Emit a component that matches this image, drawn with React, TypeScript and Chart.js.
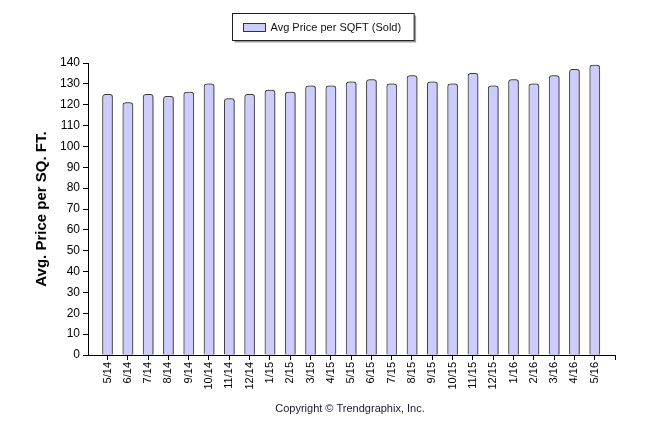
import { useEffect, useRef } from "react";
import { Chart, registerables } from "chart.js";

Chart.register(...registerables);

const categories = [
  "5/14", "6/14", "7/14", "8/14", "9/14", "10/14", "11/14", "12/14",
  "1/15", "2/15", "3/15", "4/15", "5/15", "6/15", "7/15", "8/15",
  "9/15", "10/15", "11/15", "12/15", "1/16", "2/16", "3/16", "4/16", "5/16",
];
const avgPrice = [
  125, 121, 125, 124, 126, 130, 123, 125,
  127, 126, 129, 129, 131, 132, 130, 134,
  131, 130, 135, 129, 132, 130, 134, 137, 139,
];
const yMin = 0;
const yMax = 140;
const yStep = 10;
const seriesLabel = "Avg Price per SQFT (Sold)";
const yTitle = "Avg. Price per SQ. FT.";
const copyright = "Copyright \u00A9 Trendgraphix, Inc.";

const FONT = "'Liberation Sans', Arial, sans-serif";
const BAR_FILL = "#ccccff";
const BAR_BORDER = "#3c3c3c";

const barShadowPlugin = {
  id: "barShadow",
  beforeDatasetsDraw(chart: any) {
    const ctx = chart.ctx as CanvasRenderingContext2D;
    ctx.save();
    ctx.shadowColor = "rgba(90,90,90,0.75)";
    ctx.shadowOffsetX = 1.5;
    ctx.shadowOffsetY = 0;
    ctx.shadowBlur = 0;
  },
  afterDatasetsDraw(chart: any) {
    chart.ctx.restore();
  },
};

const decorPlugin = {
  id: "decor",
  afterDraw(chart: any) {
    const ctx = chart.ctx as CanvasRenderingContext2D;
    ctx.save();
    // legend box
    ctx.font = `11px ${FONT}`;
    const textW = ctx.measureText(seriesLabel).width;
    const swW = 22;
    const swH = 8;
    const boxW = 11 + swW + 5 + textW + 13;
    const boxH = 27;
    const cx = chart.width / 2;
    const bx = Math.round(cx - boxW / 2) + 0.5;
    const by = 13.5;
    ctx.fillStyle = "#9a9a9a";
    ctx.fillRect(bx + 2, by + 2, boxW, boxH);
    ctx.fillStyle = "#ffffff";
    ctx.fillRect(bx, by, boxW, boxH);
    ctx.strokeStyle = "#222";
    ctx.lineWidth = 1;
    ctx.strokeRect(bx, by, boxW, boxH);
    const sx = bx + 11;
    const sy = Math.round(by + boxH / 2 - swH / 2);
    ctx.fillStyle = BAR_FILL;
    ctx.fillRect(sx, sy, swW, swH);
    ctx.strokeStyle = "#333";
    ctx.strokeRect(sx, sy + 0.5, swW, swH);
    ctx.fillStyle = "#111";
    ctx.textAlign = "left";
    ctx.textBaseline = "middle";
    ctx.fillText(seriesLabel, sx + swW + 5, by + boxH / 2 + 0.5);
    // copyright
    ctx.font = `11px ${FONT}`;
    ctx.textAlign = "center";
    ctx.fillStyle = "#1a1a2e";
    ctx.fillText(copyright, 350, 409);
    ctx.restore();
  },
};

export default function App() {
  const canvasRef = useRef<HTMLCanvasElement | null>(null);

  useEffect(() => {
    const canvas = canvasRef.current;
    if (!canvas) return;
    const chart = new Chart(canvas, {
      type: "bar",
      data: {
        datasets: [
          {
            label: seriesLabel,
            data: avgPrice.map((v, i) => ({ x: i, y: v })),
            backgroundColor: BAR_FILL,
            borderColor: BAR_BORDER,
            borderWidth: 1,
            borderSkipped: "bottom",
            borderRadius: { topLeft: 3, topRight: 3, bottomLeft: 0, bottomRight: 0 },
            barThickness: 10,
          } as any,
        ],
      },
      options: {
        animation: false,
        responsive: false,
        maintainAspectRatio: false,
        layout: { padding: { top: 63, right: 31, left: 0, bottom: 0 } },
        plugins: {
          legend: { display: false },
          tooltip: { enabled: false },
        },
        scales: {
          x: {
            type: "linear",
            offset: false,
            min: -0.96,
            max: categories.length,
            afterBuildTicks: (s: any) => {
              s.ticks = [...categories, ""].map((_, i) => ({ value: i }));
            },
            afterFit: (s: any) => {
              s.height = 79;
            },
            ticks: {
              autoSkip: false,
              minRotation: 90,
              maxRotation: 90,
              padding: 2,
              color: "#000",
              font: { family: FONT, size: 11 },
              callback: (v: any) => categories[Math.round(Number(v))] ?? "",
            },
            grid: {
              display: true,
              offset: false,
              drawOnChartArea: false,
              drawTicks: true,
              tickLength: 5,
              color: "#000",
            },
            border: { display: true, color: "#000" },
          },
          y: {
            min: yMin,
            max: yMax,
            afterFit: (s: any) => {
              s.width = 88;
            },
            ticks: {
              stepSize: yStep,
              padding: 3,
              color: "#000",
              font: { family: FONT, size: 12 },
            },
            grid: {
              display: true,
              drawOnChartArea: false,
              drawTicks: true,
              tickLength: 5,
              color: "#000",
            },
            border: { display: true, color: "#000" },
            title: {
              display: true,
              text: yTitle,
              color: "#000",
              font: { family: FONT, size: 15, weight: "bold" },
              padding: { top: 33, bottom: 0 },
            },
          },
        },
      } as any,
      plugins: [barShadowPlugin, decorPlugin],
    });
    return () => chart.destroy();
  }, []);

  return (
    <div
      style={{
        position: "fixed",
        left: 0,
        top: 0,
        width: 646,
        height: 434,
        background: "#fff",
      }}
    >
      <canvas ref={canvasRef} width={646} height={434} style={{ width: 646, height: 434, display: "block" }} />
    </div>
  );
}
